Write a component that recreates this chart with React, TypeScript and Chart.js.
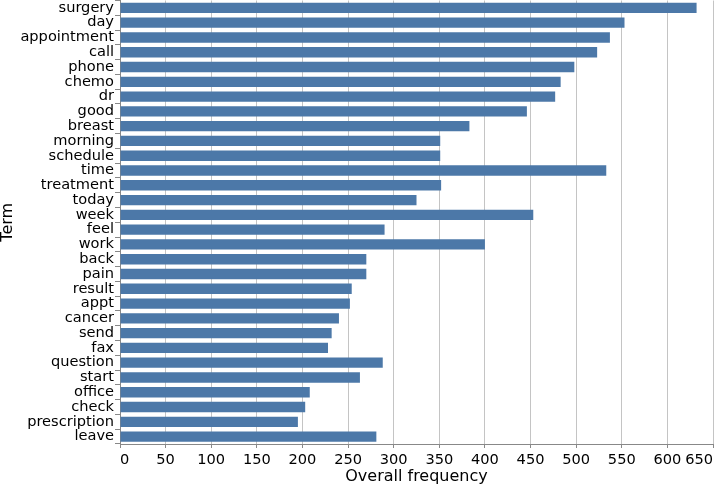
import React, { useEffect, useRef } from "react";
import { Chart, registerables } from "chart.js";

Chart.register(...registerables);

const terms = [
  "surgery", "day", "appointment", "call", "phone", "chemo", "dr", "good",
  "breast", "morning", "schedule", "time", "treatment", "today", "week",
  "feel", "work", "back", "pain", "result", "appt", "cancer", "send", "fax",
  "question", "start", "office", "check", "prescription", "leave",
];

const frequencies = [
  632, 553, 537, 523, 498, 483, 477, 446,
  383, 351, 351, 533, 352, 325, 453,
  290, 400, 270, 270, 254, 252, 240, 232, 228,
  288, 263, 208, 203, 195, 281,
];

const xTickValues = [0, 50, 100, 150, 200, 250, 300, 350, 400, 450, 500, 550, 600, 650];

const FONT = "'DejaVu Sans', sans-serif";
const LABEL_SIZE = 14.6;

const xLabelsPlugin = {
  id: "xLabelsFlush",
  afterDraw(chart: any) {
    const s = chart.scales.x;
    const ctx = chart.ctx;
    ctx.save();
    ctx.font = `${LABEL_SIZE}px ${FONT}`;
    ctx.fillStyle = "#000";
    ctx.textBaseline = "alphabetic";
    const n = xTickValues.length;
    xTickValues.forEach((v, i) => {
      const px = s.getPixelForValue(v);
      ctx.textAlign = i === 0 ? "left" : i === n - 1 ? "right" : "center";
      ctx.fillText(String(v), px, s.top + 20);
    });
    ctx.restore();
  },
};

export default function App() {
  const ref = useRef<HTMLCanvasElement>(null);
  useEffect(() => {
    if (!ref.current) return;
    const chart = new Chart(ref.current, {
      type: "bar",
      data: {
        labels: terms,
        datasets: [
          {
            data: frequencies,
            backgroundColor: "#4c78a8",
            barPercentage: 0.7,
            categoryPercentage: 1,
          },
        ],
      },
      options: {
        indexAxis: "y",
        animation: false,
        responsive: false,
        events: [],
        layout: { padding: { top: 0.5, right: 1, bottom: 0, left: 0 } },
        plugins: { legend: { display: false }, tooltip: { enabled: false } },
        scales: {
          x: {
            type: "linear",
            min: 0,
            max: 650,
            afterBuildTicks: (scale: any) => {
              scale.ticks = xTickValues.map((v) => ({ value: v }));
            },
            afterFit: (scale: any) => {
              scale.height = 42;
              scale.paddingLeft = 0;
              scale.paddingRight = 0;
            },
            ticks: { display: false },
            grid: {
              color: "#c4c4c4",
              tickColor: "#888",
              tickLength: 4,
              drawTicks: true,
            },
            border: { display: true, color: "#888" },
            title: {
              display: true,
              text: "Overall frequency",
              font: { family: FONT, size: 16 },
              color: "#000",
              padding: 0,
            },
          },
          y: {
            type: "category",
            afterFit: (scale: any) => {
              scale.width = 120;
              scale.paddingTop = 0;
              scale.paddingBottom = 0;
            },
            ticks: {
              font: { family: FONT, size: LABEL_SIZE },
              color: "#000",
              padding: 1,
              autoSkip: false,
            },
            grid: {
              drawOnChartArea: false,
              drawTicks: true,
              tickLength: 5,
              color: "#888",
            },
            border: { display: true, color: "#888" },
            title: {
              display: true,
              text: "Term",
              font: { family: FONT, size: 16, lineHeight: 0.95 },
              color: "#000",
              padding: 0,
            },
          },
        },
      },
      plugins: [xLabelsPlugin],
    });
    return () => chart.destroy();
  }, []);
  return (
    <div style={{ position: "absolute", left: 0, top: 0, width: 714, height: 486, background: "#fff" }}>
      <canvas ref={ref} width={714} height={486} style={{ display: "block" }} />
    </div>
  );
}
